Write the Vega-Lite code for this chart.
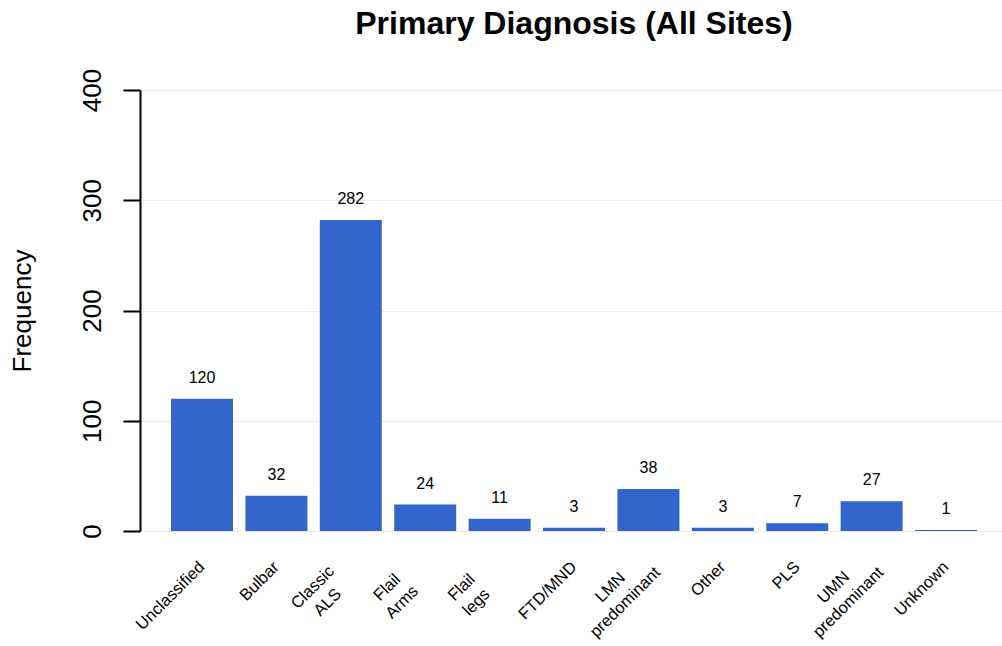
{
  "$schema": "https://vega.github.io/schema/vega-lite/v6.json",
  "width": 862,
  "height": 441,
  "autosize": {"type": "none"},
  "padding": {"left": 140, "top": 90, "right": 0, "bottom": 115},
  "background": "white",
  "config": {
    "view": {"stroke": null},
    "font": "Liberation Sans"
  },
  "title": {
    "text": "Primary Diagnosis (All Sites)",
    "font": "Liberation Sans",
    "fontSize": 32,
    "fontWeight": "bold",
    "color": "black",
    "anchor": "middle",
    "frame": "group",
    "dx": 3,
    "offset": 27
  },
  "data": {
    "values": [
      {"diagnosis": "Unclassified", "count": 120},
      {"diagnosis": "Bulbar", "count": 32},
      {"diagnosis": "Classic ALS", "count": 282},
      {"diagnosis": "Flail Arms", "count": 24},
      {"diagnosis": "Flail legs", "count": 11},
      {"diagnosis": "FTD/MND", "count": 3},
      {"diagnosis": "LMN predominant", "count": 38},
      {"diagnosis": "Other", "count": 3},
      {"diagnosis": "PLS", "count": 7},
      {"diagnosis": "UMN predominant", "count": 27},
      {"diagnosis": "Unknown", "count": 1}
    ]
  },
  "encoding": {
    "x": {
      "field": "diagnosis",
      "type": "nominal",
      "sort": null,
      "scale": {"paddingInner": 0.1667, "paddingOuter": 0.376, "align": 0.554},
      "axis": {
        "title": null,
        "domain": false,
        "ticks": false,
        "grid": false,
        "labelAngle": -45,
        "labelAlign": {"condition": {"test": "indexof(datum.value, ' ') >= 0", "value": "center"}, "value": "right"},
        "labelBaseline": "middle",
        "labelOffset": {"condition": {"test": "indexof(datum.value, ' ') >= 0", "value": -38}, "value": 0},
        "labelPadding": {"condition": {"test": "indexof(datum.value, ' ') >= 0", "value": 56}, "value": 33},
        "labelFontSize": 16.5,
        "labelFont": "Liberation Sans",
        "labelColor": "black",
        "labelLineHeight": 21,
        "labelExpr": "split(datum.label, ' ')"
      }
    },
    "y": {
      "field": "count",
      "type": "quantitative",
      "scale": {"domain": [0, 400], "nice": false, "zero": true},
      "axis": {
        "title": "Frequency",
        "titleFont": "Liberation Sans",
        "titleFontSize": 26,
        "titleFontWeight": "normal",
        "titleColor": "black",
        "titlePadding": 44,
        "values": [0, 100, 200, 300, 400],
        "labelAngle": -90,
        "labelAlign": "center",
        "labelBaseline": "bottom",
        "labelPadding": 18,
        "labelFontSize": 26,
        "labelFont": "Liberation Sans",
        "labelColor": "black",
        "tickSize": 17,
        "tickColor": "black",
        "tickWidth": 2,
        "domainColor": "black",
        "domainWidth": 2,
        "grid": true,
        "gridColor": "#EBEBEB",
        "gridWidth": 1
      }
    }
  },
  "layer": [
    {
      "mark": {"type": "bar", "color": "#3366CC"}
    },
    {
      "mark": {"type": "text", "fontSize": 16, "baseline": "middle", "dy": -21, "color": "black", "font": "Liberation Sans"},
      "encoding": {"text": {"field": "count", "type": "quantitative"}}
    },
    {
      "data": {"values": [{"label": "N = 548"}]},
      "mark": {"type": "text", "fontSize": 26, "fontWeight": "bold", "baseline": "middle", "dx": -5, "color": "black", "font": "Liberation Sans"},
      "encoding": {
        "x": {"datum": "Other"},
        "y": {"datum": 359},
        "text": {"field": "label", "type": "nominal"}
      }
    }
  ]
}
